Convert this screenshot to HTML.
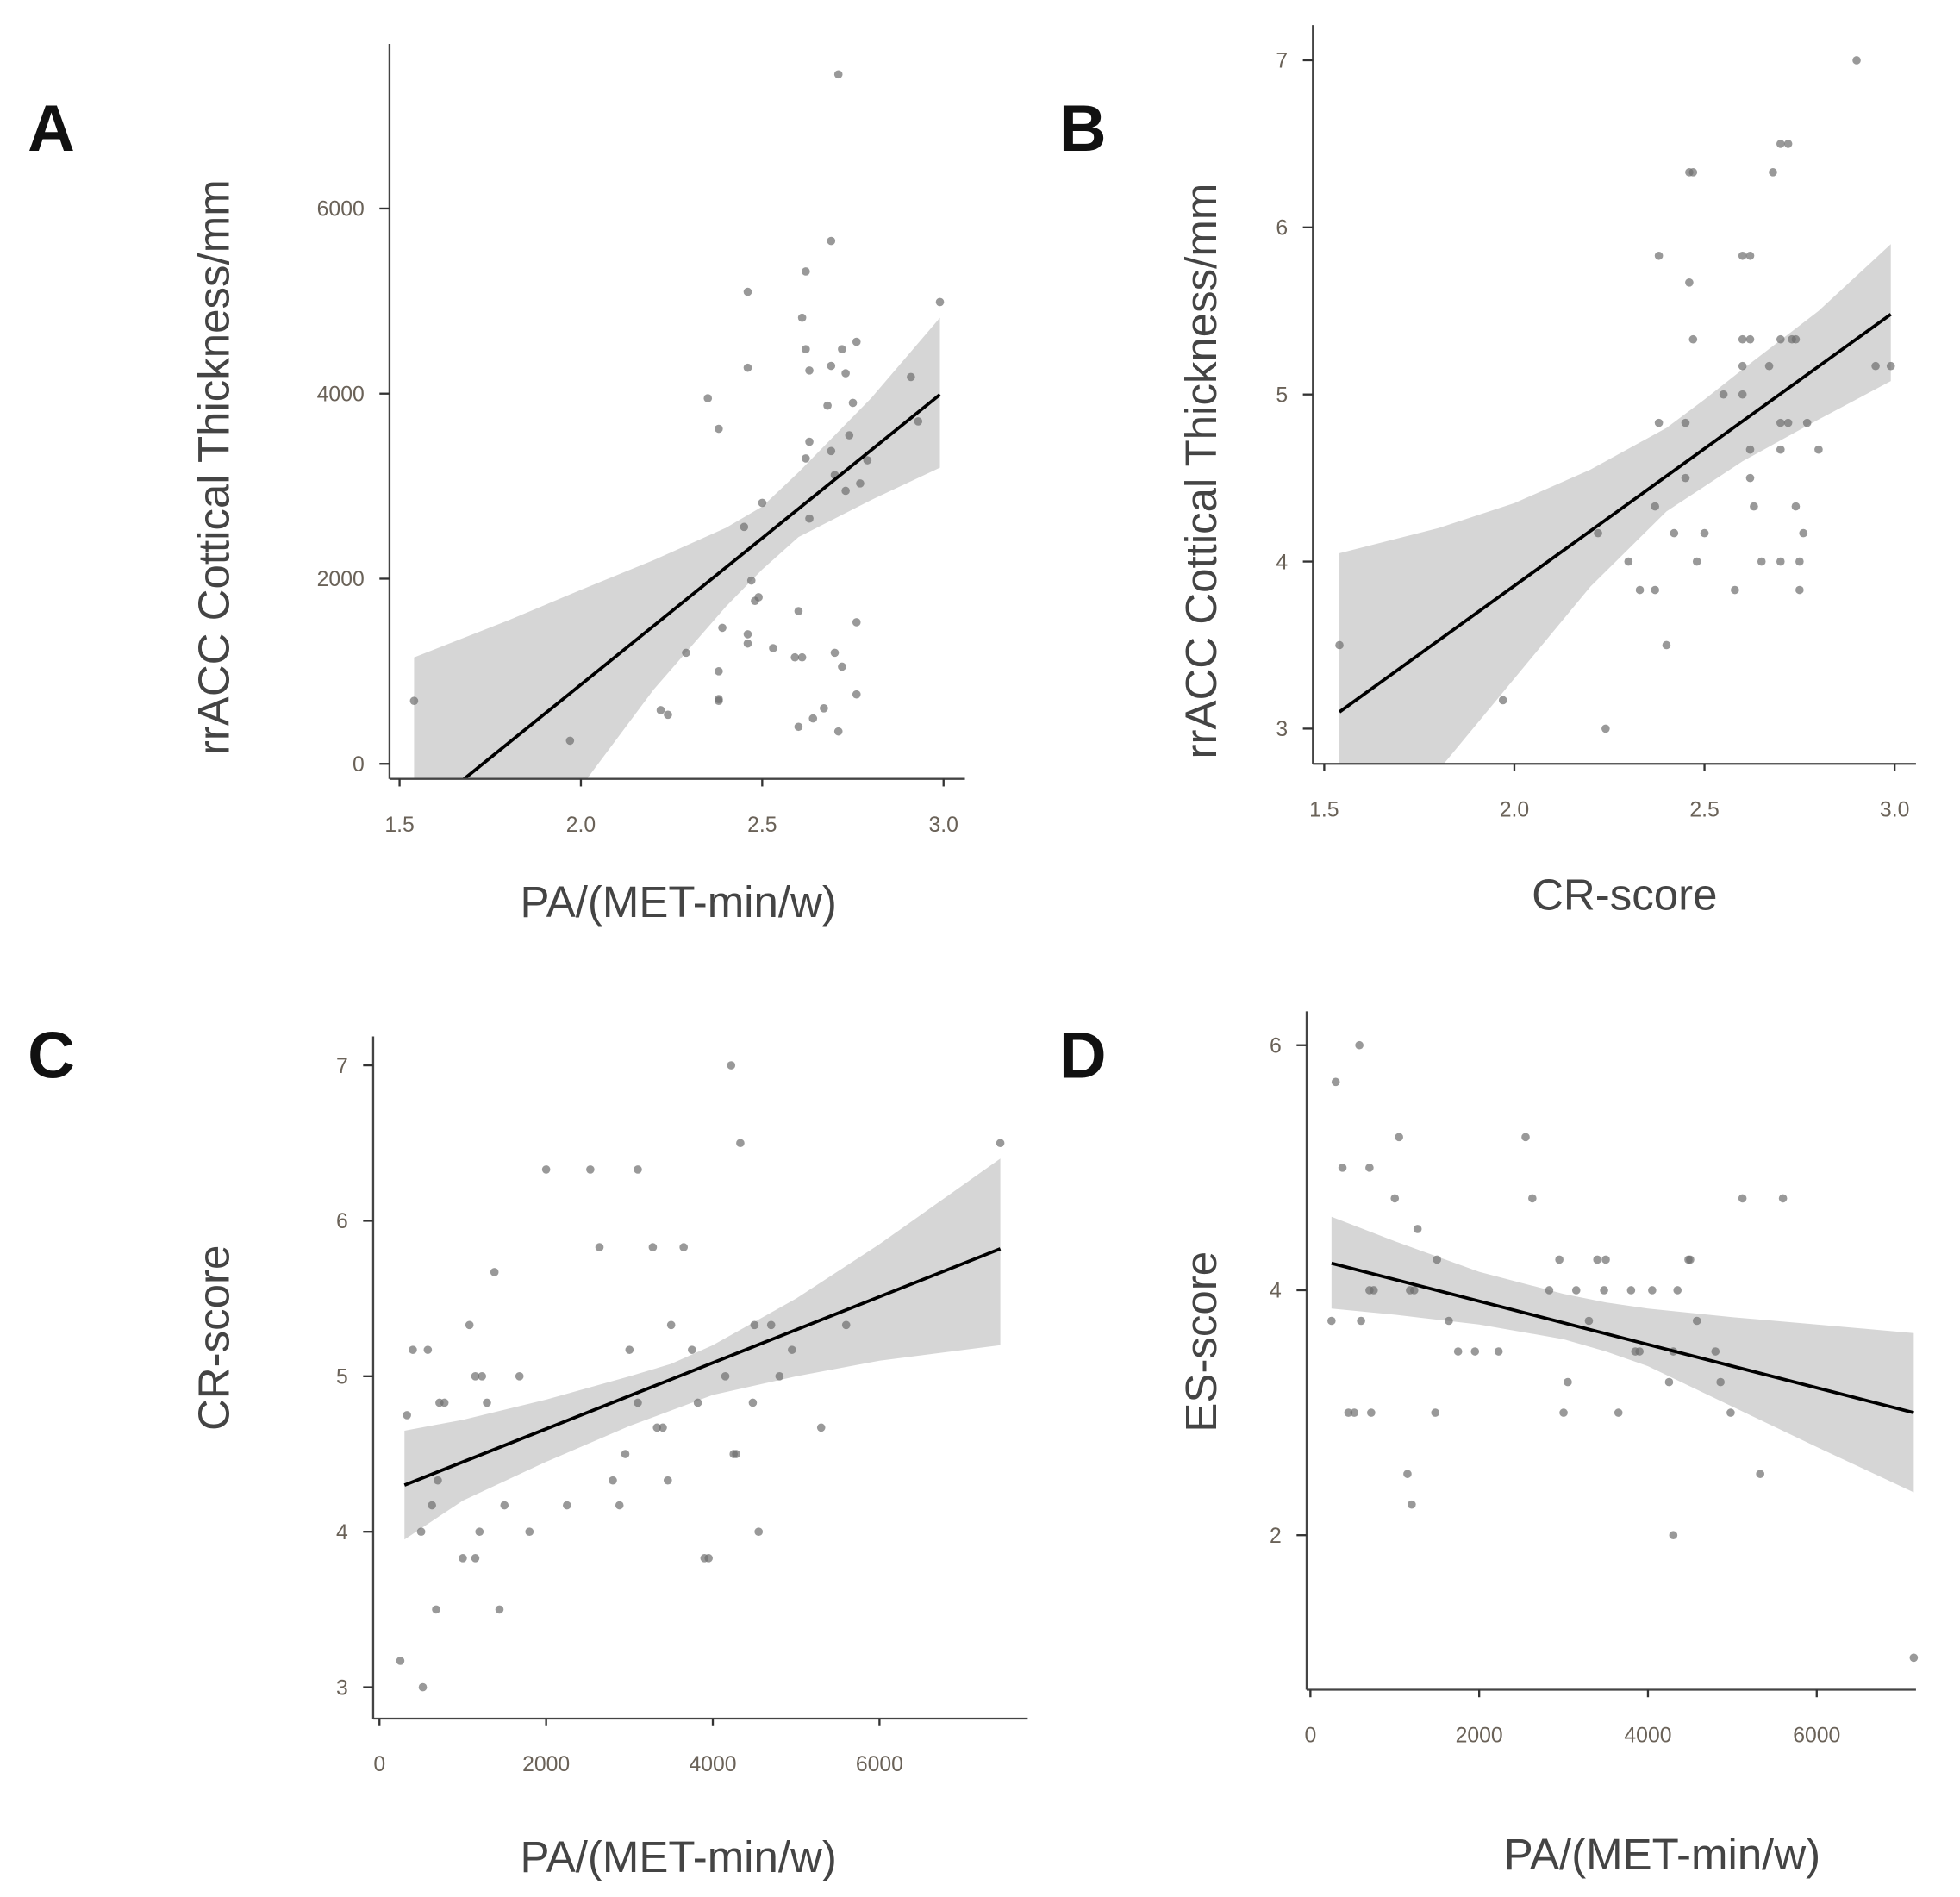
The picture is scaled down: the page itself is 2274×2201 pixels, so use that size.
<!DOCTYPE html>
<html><head><meta charset="utf-8">
<style>
html,body{margin:0;padding:0;background:#fff;}
svg{display:block;font-family:"Liberation Sans",sans-serif;}
</style></head>
<body>
<svg id="fig" width="2274" height="2201" viewBox="0 0 1560 1510" xmlns="http://www.w3.org/2000/svg">
<rect width="1560" height="1510" fill="#fff"/>
</svg>
<script>
// Panel A data
const aX=[1.54,1.97,2.22,2.24,2.29,2.35,2.38,2.38,2.38,2.39,2.38,2.45,2.46,2.46,2.46,2.46,2.47,2.48,2.49,2.5,2.53,2.60,2.59,2.61,2.60,2.61,2.62,2.62,2.63,2.62,2.63,2.63,2.64,2.67,2.69,2.68,2.69,2.69,2.7,2.7,2.71,2.71,2.72,2.72,2.73,2.73,2.74,2.75,2.76,2.76,2.76,2.77,2.79,2.91,2.93,2.99];
const aY=[680,250,580,530,1200,3950,3620,700,680,1470,1000,2560,5100,4280,1300,1400,1980,1760,1800,2820,1250,1650,1150,1150,400,4820,4480,5320,4250,3300,3480,2650,490,600,5650,3870,4300,3380,3120,1200,7450,350,4480,1050,2950,4220,3550,3900,4560,1530,750,3030,3280,4180,3700,4990];
const aFitX=[1.54,2.99];
const aFitY=[-600,3990];
const aBandX=[1.54,1.8,2.0,2.2,2.4,2.5,2.6,2.8,2.99];
const aBandUp=[1150,1550,1880,2200,2550,2780,3150,3950,4820];
const aBandLo=[-3500,-1500,-250,800,1700,2100,2450,2850,3200];
const aXTicks=[1.5,2.0,2.5,3.0];
const aXTickLabels=["1.5","2.0","2.5","3.0"];
const aYTicks=[0,2000,4000,6000];
const aYTickLabels=["0","2000","4000","6000"];

// Panel B data
const bX=[1.54,1.97,2.24,2.22,2.3,2.33,2.37,2.37,2.38,2.38,2.4,2.42,2.45,2.45,2.46,2.47,2.46,2.47,2.48,2.5,2.55,2.58,2.6,2.62,2.6,2.62,2.6,2.6,2.62,2.62,2.63,2.65,2.67,2.68,2.7,2.72,2.7,2.7,2.7,2.7,2.72,2.73,2.74,2.74,2.75,2.75,2.76,2.77,2.8,2.9,2.95,2.99];
const bY=[3.5,3.17,3.0,4.17,4.0,3.83,3.83,4.33,4.83,5.83,3.5,4.17,4.5,4.83,6.33,6.33,5.67,5.33,4.0,4.17,5.0,3.83,5.83,5.83,5.33,5.33,5.0,5.17,4.67,4.5,4.33,4.0,5.17,6.33,6.5,6.5,5.33,4.83,4.0,4.67,4.83,5.33,5.33,4.33,4.0,3.83,4.17,4.83,4.67,7.0,5.17,5.17];
const bFitX=[1.54,2.99];
const bFitY=[3.1,5.48];
const bBandX=[1.54,1.8,2.0,2.2,2.4,2.5,2.6,2.8,2.99];
const bBandUp=[4.05,4.2,4.35,4.55,4.8,4.97,5.15,5.5,5.9];
const bBandLo=[2.15,2.75,3.3,3.85,4.3,4.45,4.6,4.85,5.08];
const bXTicks=[1.5,2.0,2.5,3.0];
const bXTickLabels=["1.5","2.0","2.5","3.0"];
const bYTicks=[3,4,5,6,7];
const bYTickLabels=["3","4","5","6","7"];

// Panel C data
const cX=[250,330,400,500,520,580,630,680,700,720,780,1000,1080,1150,1150,1200,1230,1290,1380,1440,1500,1680,1800,2000,2250,2530,2640,2800,2880,2950,3000,3100,3100,3280,3330,3400,3460,3500,3650,3750,3820,3900,3950,4150,4220,4250,4280,4330,4480,4500,4550,4700,4800,4950,5300,5600,7450];
const cY=[3.17,4.75,5.17,4.0,3.0,5.17,4.17,3.5,4.33,4.83,4.83,3.83,5.33,3.83,5.0,4.0,5.0,4.83,5.67,3.5,4.17,5.0,4.0,6.33,4.17,6.33,5.83,4.33,4.17,4.5,5.17,6.33,4.83,5.83,4.67,4.67,4.33,5.33,5.83,5.17,4.83,3.83,3.83,5.0,7.0,4.5,4.5,6.5,4.83,5.33,4.0,5.33,5.0,5.17,4.67,5.33,6.5];
const cFitX=[300,7450];
const cFitY=[4.3,5.82];
const cBandX=[300,1000,2000,3000,3500,4000,5000,6000,7450];
const cBandUp=[4.65,4.72,4.85,5.0,5.08,5.2,5.5,5.85,6.4];
const cBandLo=[3.95,4.2,4.45,4.68,4.78,4.88,5.0,5.1,5.2];
const cXTicks=[0,2000,4000,6000];
const cXTickLabels=["0","2000","4000","6000"];
const cYTicks=[3,4,5,6,7];
const cYTickLabels=["3","4","5","6","7"];

// Panel D data
const dX=[250,300,380,450,520,580,600,700,700,720,750,1000,1050,1150,1180,1200,1230,1270,1480,1500,1640,1750,1950,2230,2550,2630,2830,2950,3000,3050,3150,3300,3400,3480,3500,3650,3800,3850,3900,4050,4250,4300,4300,4350,4480,4500,4580,4800,4860,4980,5120,5330,5600,7150];
const dY=[3.75,5.7,5.0,3.0,3.0,6.0,3.75,5.0,4.0,3.0,4.0,4.75,5.25,2.5,4.0,2.25,4.0,4.5,3.0,4.25,3.75,3.5,3.5,3.5,5.25,4.75,4.0,4.25,3.0,3.25,4.0,3.75,4.25,4.0,4.25,3.0,4.0,3.5,3.5,4.0,3.25,3.5,2.0,4.0,4.25,4.25,3.75,3.5,3.25,3.0,4.75,2.5,4.75,1.0];
const dFitX=[250,7150];
const dFitY=[4.22,3.0];
const dBandX=[250,1000,2000,3000,3500,4000,5000,6000,7150];
const dBandUp=[4.6,4.4,4.15,3.97,3.9,3.85,3.78,3.72,3.65];
const dBandLo=[3.85,3.8,3.72,3.6,3.5,3.38,3.05,2.72,2.35];
const dXTicks=[0,2000,4000,6000];
const dXTickLabels=["0","2000","4000","6000"];
const dYTicks=[2,4,6];
const dYTickLabels=["2","4","6"];

const NS="http://www.w3.org/2000/svg";
const svg=document.getElementById('fig');
function mk(tag,attrs,parent){const e=document.createElementNS(NS,tag);for(const k in attrs)e.setAttribute(k,attrs[k]);(parent||svg).appendChild(e);return e;}

function panel(cfg){
  const g=mk('g',{});
  
  
  const sx=v=>cfg.x0px+(v-cfg.x0v)*(cfg.x1px-cfg.x0px)/(cfg.x1v-cfg.x0v);
  const sy=v=>cfg.y0px+(v-cfg.y0v)*(cfg.y1px-cfg.y0px)/(cfg.y1v-cfg.y0v);
  const clip=mk('clipPath',{id:'clip-'+cfg.id},g);
  mk('rect',{x:cfg.axX,y:cfg.axTop-10,width:cfg.axRight-cfg.axX+10,height:cfg.axY-cfg.axTop+10},clip);
  const plot=mk('g',{'clip-path':'url(#clip-'+cfg.id+')'},g);
  let d='';
  cfg.bandX.forEach((v,i)=>{d+=(i?'L':'M')+sx(v)+','+sy(cfg.bandUp[i]);});
  for(let i=cfg.bandX.length-1;i>=0;i--)d+='L'+sx(cfg.bandX[i])+','+sy(cfg.bandLo[i]);
  const band=mk('path',{d:d+'Z',fill:'#d6d6d6'},plot);
  
  
  cfg.px.forEach((v,i)=>{
    const c=mk('circle',{cx:sx(v),cy:sy(cfg.py[i]),r:3.3,fill:'#6e6e6e','fill-opacity':0.7},plot);
    
    
  });
  const ln=mk('line',{x1:sx(cfg.fitX[0]),y1:sy(cfg.fitY[0]),x2:sx(cfg.fitX[1]),y2:sy(cfg.fitY[1]),stroke:'#000','stroke-width':2.6},plot);
  
  
  const ya=mk('line',{x1:cfg.axX,y1:cfg.axTop,x2:cfg.axX,y2:cfg.axY,stroke:'#444','stroke-width':1.6},g);
  
  
  const xa=mk('line',{x1:cfg.axX,y1:cfg.axY,x2:cfg.axRight,y2:cfg.axY,stroke:'#444','stroke-width':1.6},g);
  
  
  cfg.xTicks.forEach((v,i)=>{
    const X=sx(v);
    mk('line',{x1:X,y1:cfg.axY,x2:X,y2:cfg.axY+6,stroke:'#333','stroke-width':1.6},g);
    const t=mk('text',{x:X,y:cfg.axY+42,'text-anchor':'middle','font-size':17,fill:'#6a6258'},g);
    t.textContent=cfg.xTickLabels[i];
    
    
  });
  cfg.yTicks.forEach((v,i)=>{
    const Y=sy(v);
    mk('line',{x1:cfg.axX-8,y1:Y,x2:cfg.axX,y2:Y,stroke:'#333','stroke-width':1.6},g);
    const t=mk('text',{x:cfg.axX-20,y:Y+6,'text-anchor':'end','font-size':17,fill:'#6a6258'},g);
    t.textContent=cfg.yTickLabels[i];
    
    
  });
  const xt=mk('text',{x:cfg.xtX,y:cfg.xtY,'text-anchor':'middle','font-size':35,fill:'#444'},g);
  xt.textContent=cfg.xTitle;
  
  
  const yt=mk('text',{x:0,y:0,'text-anchor':'middle','font-size':35,fill:'#444',transform:'translate('+cfg.ytX+','+cfg.ytY+') rotate(-90)'},g);
  yt.textContent=cfg.yTitle;
  
  
  const L=mk('text',{x:cfg.lx,y:cfg.ly,'font-size':52,'font-weight':'bold',fill:'#111'},g);
  L.textContent=cfg.id;
  
  
}

panel({id:'A',px:aX,py:aY,fitX:aFitX,fitY:aFitY,bandX:aBandX,bandUp:aBandUp,bandLo:aBandLo,
 xTicks:aXTicks,xTickLabels:aXTickLabels,yTicks:aYTicks,yTickLabels:aYTickLabels,
 x0v:1.5,x1v:3.0,x0px:318,x1px:751,y0v:0,y1v:6000,y0px:608,y1px:166,
 axX:310,axTop:35,axY:620,axRight:768,xTitle:'PA/(MET-min/w)',xtX:540,xtY:730,
 yTitle:'rrACC Cottical Thickness/mm',ytX:182,ytY:372,lx:22,ly:120});
panel({id:'B',px:bX,py:bY,fitX:bFitX,fitY:bFitY,bandX:bBandX,bandUp:bBandUp,bandLo:bBandLo,
 xTicks:bXTicks,xTickLabels:bXTickLabels,yTicks:bYTicks,yTickLabels:bYTickLabels,
 x0v:1.5,x1v:3.0,x0px:1054,x1px:1508,y0v:3,y1v:7,y0px:580,y1px:48,
 axX:1045,axTop:20,axY:608,axRight:1525,xTitle:'CR-score',xtX:1293,xtY:724,
 yTitle:'rrACC Cottical Thickness/mm',ytX:968,ytY:375,lx:843,ly:120});
panel({id:'C',px:cX,py:cY,fitX:cFitX,fitY:cFitY,bandX:cBandX,bandUp:cBandUp,bandLo:cBandLo,
 xTicks:cXTicks,xTickLabels:cXTickLabels,yTicks:cYTicks,yTickLabels:cYTickLabels,
 x0v:0,x1v:6000,x0px:302,x1px:700,y0v:3,y1v:7,y0px:1343,y1px:848,
 axX:297,axTop:825,axY:1368,axRight:818,xTitle:'PA/(MET-min/w)',xtX:540,xtY:1490,
 yTitle:'CR-score',ytX:182,ytY:1065,lx:22,ly:858});
panel({id:'D',px:dX,py:dY,fitX:dFitX,fitY:dFitY,bandX:dBandX,bandUp:dBandUp,bandLo:dBandLo,
 xTicks:dXTicks,xTickLabels:dXTickLabels,yTicks:dYTicks,yTickLabels:dYTickLabels,
 x0v:0,x1v:6000,x0px:1043,x1px:1446,y0v:2,y1v:6,y0px:1222,y1px:832,
 axX:1040,axTop:805,axY:1345,axRight:1525,xTitle:'PA/(MET-min/w)',xtX:1323,xtY:1488,
 yTitle:'ES-score',ytX:968,ytY:1068,lx:843,ly:858});
</script>
</body></html>
